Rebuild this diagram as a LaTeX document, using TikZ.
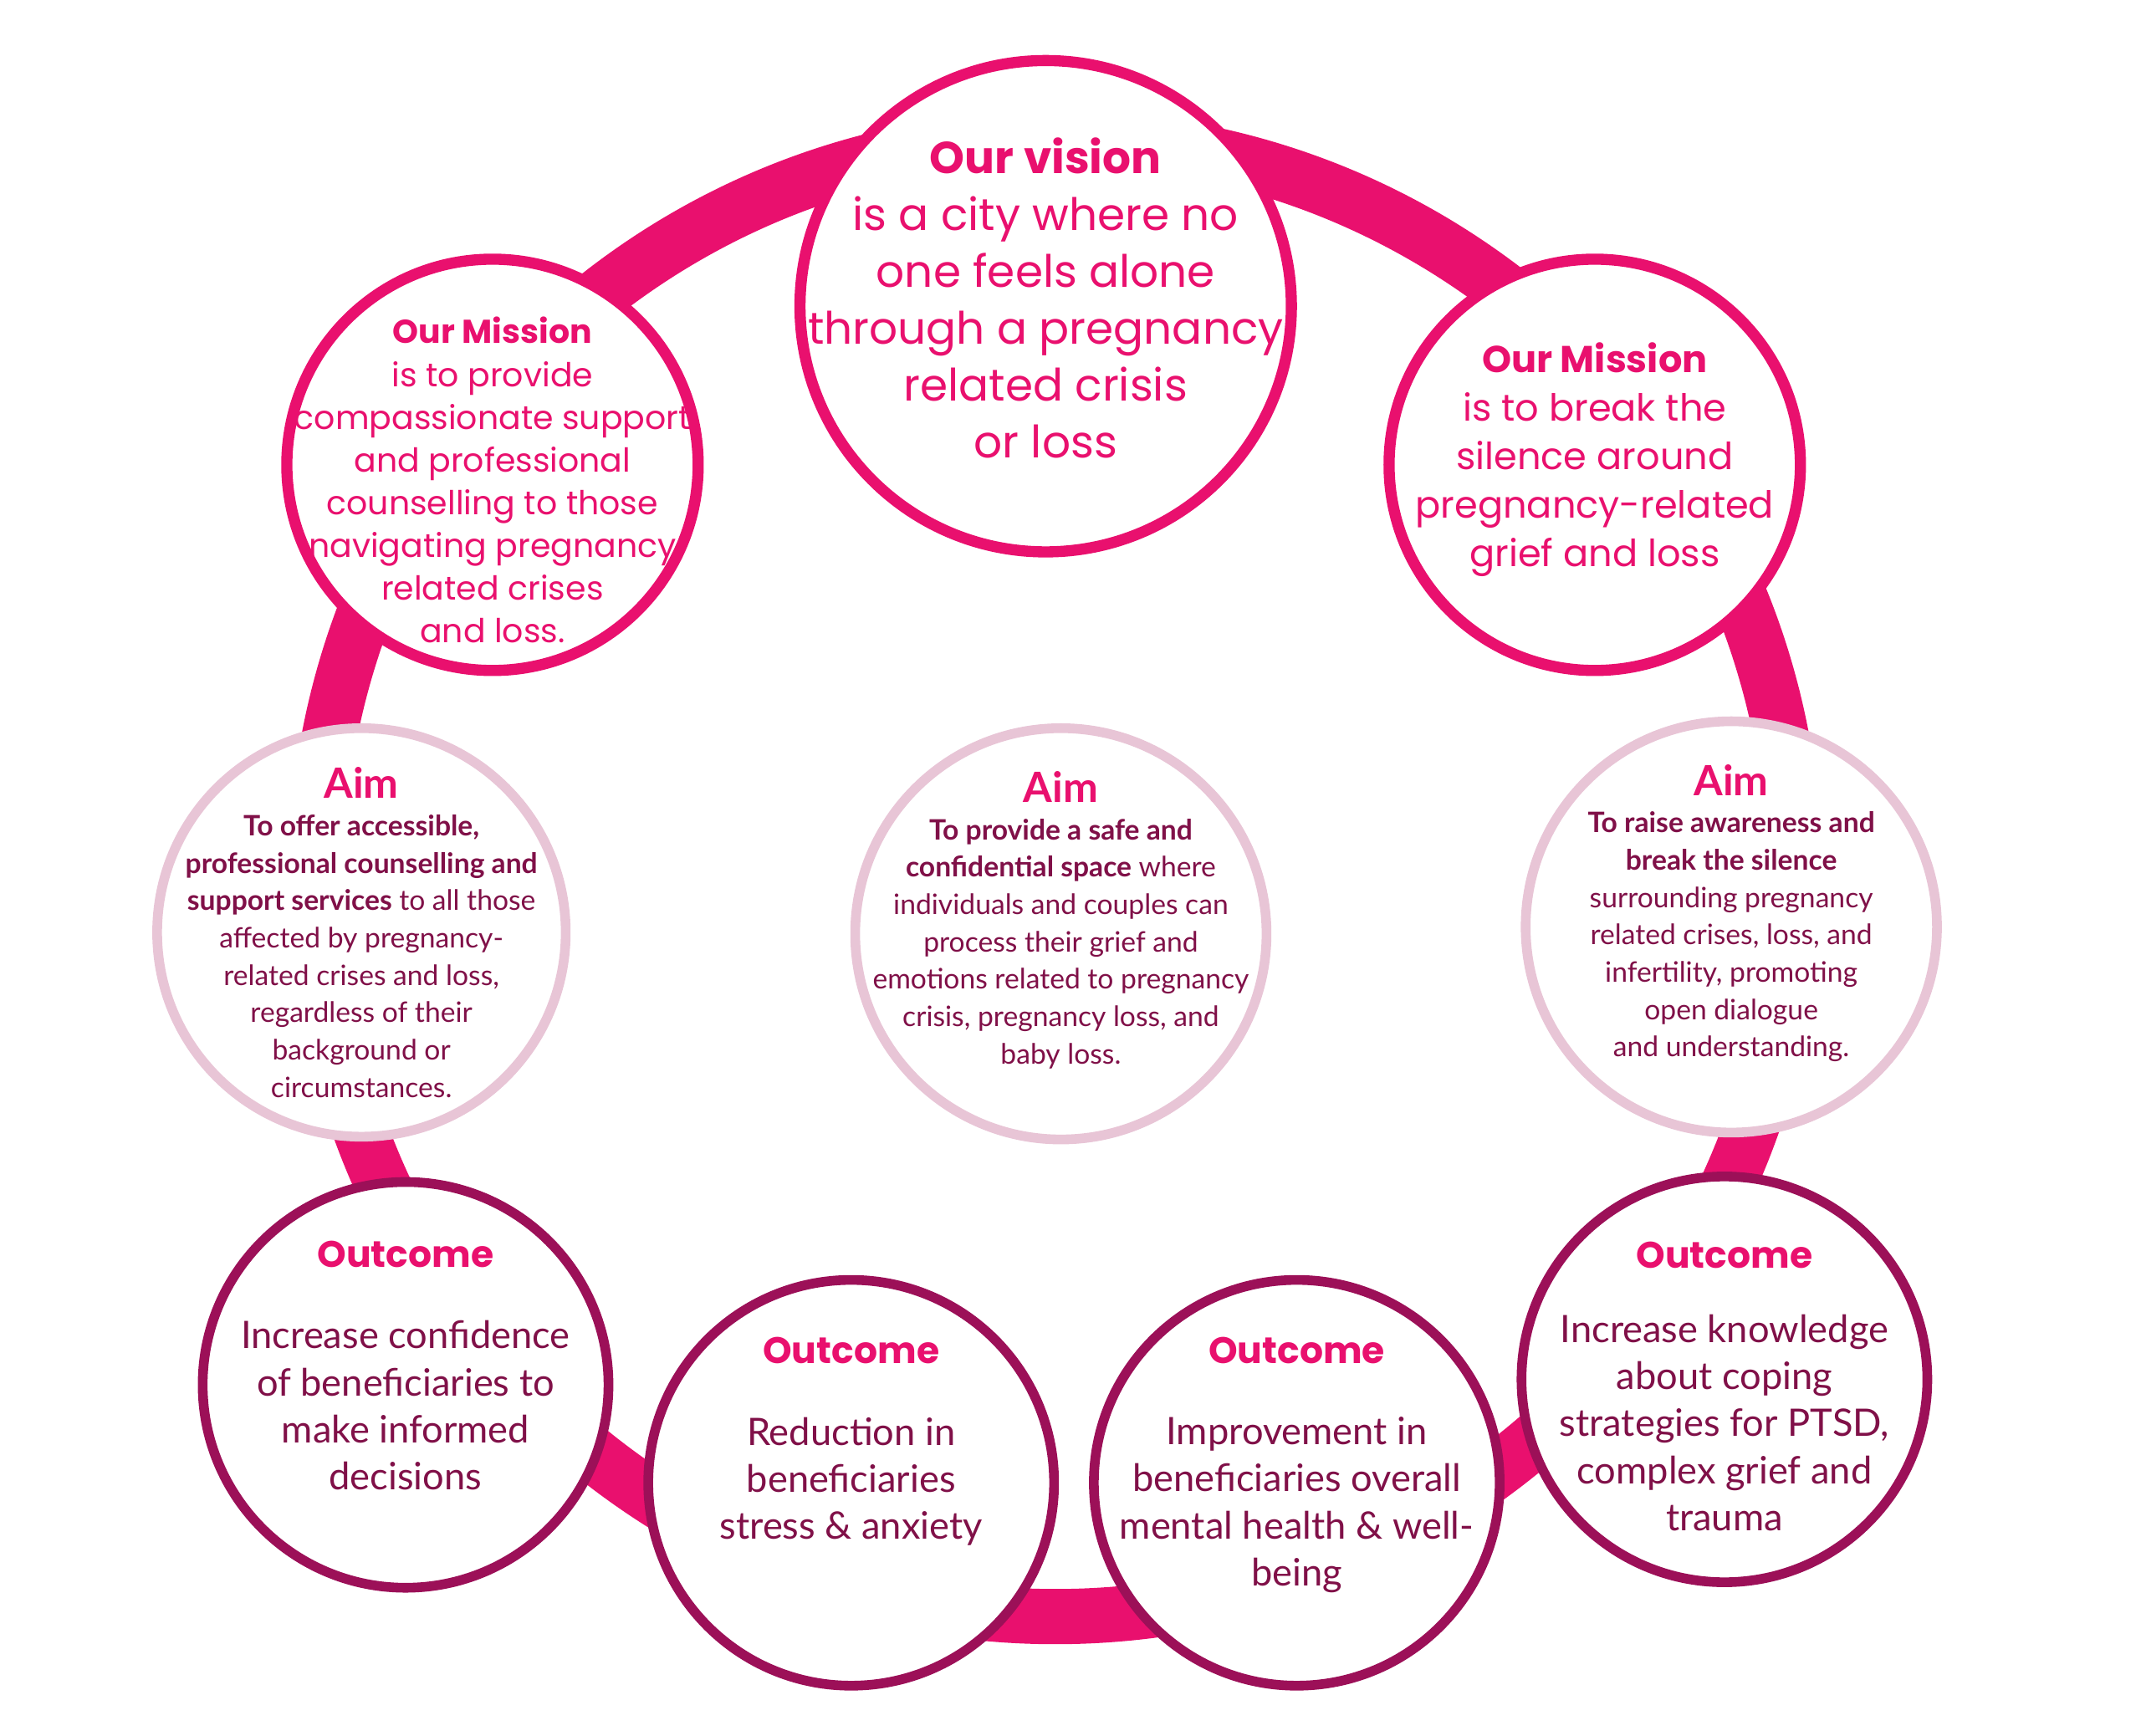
\documentclass[tikz,border=0pt]{standalone}
\usepackage{fontspec}
\setmainfont{Lato}
\newfontfamily\popfont{Poppins}
\usetikzlibrary{positioning}
\definecolor{ringpink}{RGB}{233,16,110}
\definecolor{aimpink}{RGB}{232,197,214}
\definecolor{deepplum}{RGB}{156,16,88}
\definecolor{plumtext}{RGB}{128,16,72}
\tikzset{
  bigcirc/.style={circle, draw=ringpink, line width=2.3pt, fill=white, inner sep=0pt},
  aimcirc/.style={circle, draw=aimpink, line width=2pt, fill=white, inner sep=0pt},
  outcirc/.style={circle, draw=deepplum, line width=2pt, fill=white, inner sep=0pt},
  vtext/.style={align=center, text=ringpink, font=\popfont\fontsize{9.2}{11.7}\selectfont},
  mtext/.style={align=center, text=ringpink, font=\popfont\fontsize{6.8}{8.8}\selectfont},
  atext/.style={align=center, text=plumtext, font=\fontsize{5.8}{7.7}\selectfont},
  otext/.style={align=center, text=plumtext, font=\fontsize{7.8}{9.7}\selectfont},
}
\begin{document}
\begin{tikzpicture}[x=0.01cm, y=-0.01cm]
  \useasboundingbox (0,0) rectangle (1552,1258);
  % ring behind the circles
  \coordinate (hub) at (765,636);
  \draw[ringpink, line width=0.4cm] (hub) circle[radius=536];

  % vision and mission
  \node[bigcirc, minimum size=3.56cm] (vision) at (758,222) {};
  \node[bigcirc, minimum size=2.98cm] (missionL) at (357,337) {};
  \node[bigcirc, minimum size=2.98cm] (missionR) at (1156,337) {};
  % aims
  \node[aimcirc, minimum size=2.96cm] (aimL) at (262,676) {};
  \node[aimcirc, minimum size=2.98cm] (aimC) at (769,677) {};
  \node[aimcirc, minimum size=2.98cm] (aimR) at (1255,672) {};
  % outcomes
  \node[outcirc, minimum size=2.94cm] (outA) at (294,1004) {};
  \node[outcirc, minimum size=2.94cm] (outB) at (617,1075) {};
  \node[outcirc, minimum size=2.94cm] (outC) at (940,1075) {};
  \node[outcirc, minimum size=2.94cm] (outD) at (1250,1000) {};

  % texts
  \node[vtext] (visionT) at ([yshift=0.06cm]vision.center)
    {\textbf{Our vision}\\is a city where no\\one feels alone\\through a pregnancy\\related crisis\\or loss};
  \node[mtext] (missionLT) at ([yshift=-0.11cm]missionL.center)
    {\textbf{Our Mission}\\is to provide\\compassionate support\\and professional\\counselling to those\\navigating pregnancy\\related crises\\and loss.};
  \node[mtext, font=\popfont\fontsize{7.7}{10}\selectfont] (missionRT) at ([yshift=0.04cm]missionR.center)
    {\textbf{Our Mission}\\is to break the\\silence around\\pregnancy-related\\grief and loss};
  \node[atext] (aimLT) at (aimL.center)
    {{\fontsize{8.6}{11}\selectfont\textbf{\textcolor{ringpink}{Aim}}}\\\textbf{To offer accessible,}\\\textbf{professional counselling and}\\\textbf{support services} to all those\\affected by pregnancy-\\related crises and loss,\\regardless of their\\background or\\circumstances.};
  \node[atext] (aimCT) at ([yshift=0.1cm]aimC.center)
    {{\fontsize{8.6}{11}\selectfont\textbf{\textcolor{ringpink}{Aim}}}\\\textbf{To provide a safe and}\\\textbf{confidential space} where\\individuals and couples can\\process their grief and\\emotions related to pregnancy\\crisis, pregnancy loss, and\\baby loss.};
  \node[atext] (aimRT) at ([yshift=0.1cm]aimR.center)
    {{\fontsize{8.6}{11}\selectfont\textbf{\textcolor{ringpink}{Aim}}}\\\textbf{To raise awareness and}\\\textbf{break the silence}\\surrounding pregnancy\\related crises, loss, and\\infertility, promoting\\open dialogue\\and understanding.};
  \node[otext] (outAT) at ([yshift=0.14cm]outA.center)
    {{\popfont\fontsize{7.6}{9.7}\selectfont\textbf{\textcolor{ringpink}{Outcome}}}\\[0.25cm]Increase confidence\\of beneficiaries to\\make informed\\decisions};
  \node[otext] (outBT) at ([yshift=0.3cm]outB.center)
    {{\popfont\fontsize{7.6}{9.7}\selectfont\textbf{\textcolor{ringpink}{Outcome}}}\\[0.25cm]Reduction in\\beneficiaries\\stress \& anxiety};
  \node[otext] (outCT) at ([yshift=0.13cm]outC.center)
    {{\popfont\fontsize{7.6}{9.7}\selectfont\textbf{\textcolor{ringpink}{Outcome}}}\\[0.25cm]Improvement in\\beneficiaries overall\\mental health \& well-\\being};
  \node[otext] (outDT) at ([yshift=-0.05cm]outD.center)
    {{\popfont\fontsize{7.6}{9.7}\selectfont\textbf{\textcolor{ringpink}{Outcome}}}\\[0.2cm]Increase knowledge\\about coping\\strategies for PTSD,\\complex grief and\\trauma};
\end{tikzpicture}
\end{document}
